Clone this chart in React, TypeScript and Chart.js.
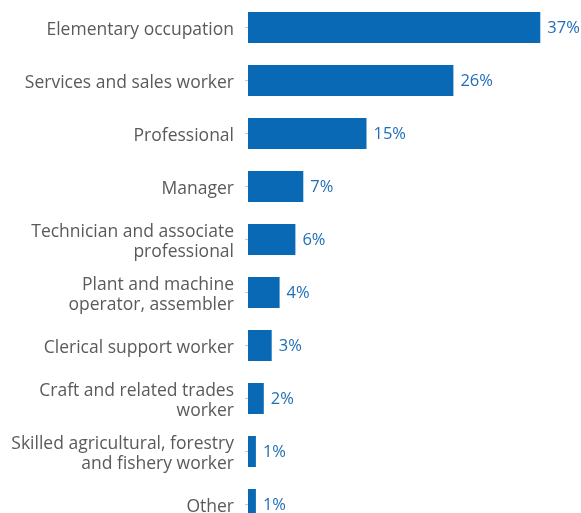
import React, { useEffect, useRef } from "react";
import { Chart, registerables } from "chart.js";

Chart.register(...registerables);

const categories: (string | string[])[] = [
  "Elementary occupation",
  "Services and sales worker",
  "Professional",
  "Manager",
  ["Technician and associate", "professional"],
  ["Plant and machine", "operator, assembler"],
  "Clerical support worker",
  ["Craft and related trades", "worker"],
  ["Skilled agricultural, forestry", "and fishery worker"],
  "Other",
];
const shares = [37, 26, 15, 7, 6, 4, 3, 2, 1, 1];

const BAR = "#0a69b4";
const LABEL_BLUE = "#1f6eb6";
const TEXT = "#5a5a5a";
const FONT = "'Open Sans', sans-serif";
const CAT_SIZE = 17.5;
const CAT_LINE = 20;

const labelsPlugin = {
  id: "labelsPlugin",
  afterDatasetsDraw(chart: any) {
    const ctx = chart.ctx;
    const meta = chart.getDatasetMeta(0);
    const yScale = chart.scales.y;
    ctx.save();
    ctx.textBaseline = "middle";
    // category labels
    ctx.fillStyle = TEXT;
    ctx.font = `${CAT_SIZE}px ${FONT}`;
    ctx.textAlign = "right";
    const xRight = chart.chartArea.left - 14;
    categories.forEach((c, i) => {
      const lines = Array.isArray(c) ? c : [c];
      const cy = yScale.getPixelForTick(i) + 2.5;
      const start = cy - ((lines.length - 1) * CAT_LINE) / 2;
      lines.forEach((ln, k) => ctx.fillText(ln, xRight, start + k * CAT_LINE));
    });
    // value labels
    ctx.fillStyle = LABEL_BLUE;
    ctx.font = `16.5px ${FONT}`;
    ctx.textAlign = "left";
    meta.data.forEach((el: any, i: number) => {
      ctx.fillText(`${shares[i]}%`, el.x + 7, el.y + 1);
    });
    ctx.restore();
  },
};

export default function App() {
  const ref = useRef<HTMLCanvasElement>(null);
  useEffect(() => {
    document.body.style.margin = "0";
    const chart = new Chart(ref.current!, {
      type: "bar",
      data: {
        labels: categories as any,
        datasets: [
          {
            data: shares,
            backgroundColor: BAR,
            barPercentage: 0.585,
            categoryPercentage: 1,
          },
        ],
      },
      options: {
        indexAxis: "y",
        animation: false,
        responsive: false,
        maintainAspectRatio: false,
        layout: { padding: { top: 1, bottom: 9, left: 0, right: 17 } },
        plugins: { legend: { display: false }, tooltip: { enabled: false } },
        scales: {
          x: { display: false, min: 0, max: 40 },
          y: {
            afterFit(scale: any) {
              scale.width = 248;
              scale.paddingTop = 0;
              scale.paddingBottom = 0;
            },
            grid: {
              drawOnChartArea: false,
              drawTicks: true,
              offset: false,
              tickLength: 3,
              color: "#c8c8c8",
            },
            border: { display: false },
            ticks: { display: false, autoSkip: false },
          },
        },
      },
      plugins: [labelsPlugin],
    });
    return () => chart.destroy();
  }, []);
  return (
    <div style={{ width: 581, height: 513, overflow: "hidden" }}>
      <canvas ref={ref} width={581} height={540} style={{ display: "block" }} />
    </div>
  );
}
